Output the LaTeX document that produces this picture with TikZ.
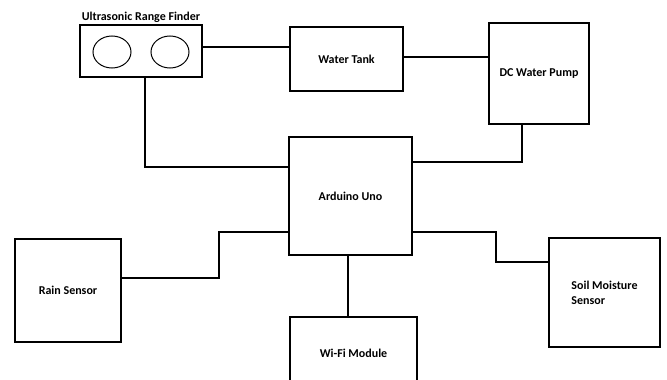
\documentclass[tikz,border=0pt]{standalone}
\usepackage{fontspec}
\setmainfont{Carlito}
\usetikzlibrary{positioning}
\tikzset{
box node/.style={draw,line width=1.1pt,inner sep=2pt,align=center,font=\bfseries\fontsize{12}{15}\selectfont},
link/.style={line width=1.1pt},
sensor eye/.style={line width=1pt}}

\begin{document}
\begin{tikzpicture}[x=1pt,y=-1pt]
\useasboundingbox (0,0) rectangle (667,380);

\node[box node,minimum width=122pt,minimum height=52pt] (us) at (141,51) {};
\node[font=\bfseries\fontsize{12}{14}\selectfont,inner sep=0pt,above=1.5pt of us] (uslabel) {Ultrasonic Range Finder};
\node[box node,minimum width=113pt,minimum height=64pt] (tank) at (346.5,59) {Water Tank};
\node[box node,minimum width=100pt,minimum height=101pt] (pump) at (539,73.5) {DC Water Pump};
\node[box node,minimum width=123pt,minimum height=118pt] (uno) at (350.5,196) {Arduino Uno};
\node[box node,minimum width=106pt,minimum height=103pt] (rain) at (68,290.5) {Rain Sensor};
\node[box node,minimum width=127pt,minimum height=72pt] (wifi) at (353.5,353) {Wi-Fi Module};
\node[box node,minimum width=111pt,minimum height=109pt,align=left] (soil) at (604.5,292.5) {Soil Moisture\\Sensor};

% the two transducers
\draw[sensor eye] (us.center) ++(-29,1) ellipse [x radius=19pt,y radius=16pt];
\draw[sensor eye] (us.center) ++(29,1) ellipse [x radius=19pt,y radius=16pt];

\coordinate (rainbend) at (219,232);
\coordinate (soilbend) at (496,247);

\draw[link] ([yshift=4pt]us.east) -- ([yshift=12pt]tank.west);
\draw[link] ([yshift=2pt]tank.east) -- ([yshift=16.5pt]pump.west);
\draw[link] ([xshift=4pt]us.south) |- ([yshift=29pt]uno.west);
\draw[link] ([xshift=-17pt]pump.south) |- ([yshift=34pt]uno.east);
\draw[link] ([yshift=12.5pt]rain.east) -| (rainbend) -- ([yshift=-36pt]uno.west);
\draw[link] ([yshift=-36pt]uno.east) -| (soilbend) |- ([yshift=30.5pt]soil.west);
\draw[link] ([xshift=-2.5pt]uno.south) -- ([xshift=-5.5pt]wifi.north);

\end{tikzpicture}
\end{document}
